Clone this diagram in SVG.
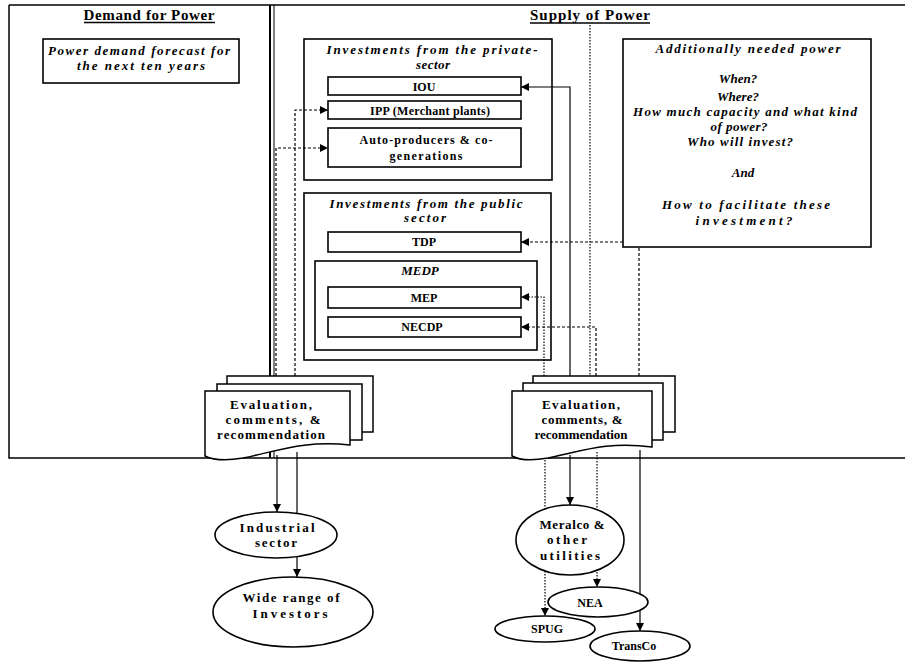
<svg xmlns="http://www.w3.org/2000/svg" width="905" height="662" viewBox="0 0 905 662">
  <defs>
    <style>
      .frame { fill: none; stroke: #000; stroke-width: 1.5; }
      .box { fill: #fff; stroke: #000; stroke-width: 1.6; }
      .group { fill: none; stroke: #000; stroke-width: 1.6; }
      .page { fill: #fff; stroke: #000; stroke-width: 1.5; }
      .t { font-family: "Liberation Serif", "DejaVu Serif", serif; font-weight: bold; font-size: 12px; fill: #000; text-anchor: middle; }
      .it { font-style: italic; font-size: 13px; }
      .big { font-size: 13px; }
      .title { font-size: 15px; }
      .conn { fill: none; stroke: #000; stroke-width: 1.2; }
      .dash { stroke-dasharray: 3 2; }
      .dot { stroke-dasharray: 1.5 1.5; }
      .arr { marker-end: url(#arrow); }
    </style>
    <marker id="arrow" markerWidth="9" markerHeight="9" refX="8" refY="4" orient="auto" markerUnits="userSpaceOnUse">
      <path d="M0,0 L8,4 L0,8 Z" fill="#000"/>
    </marker>
  </defs>

  <rect width="905" height="662" fill="#fff"/>

  <!-- Demand / Supply panels -->
  <g id="demand-panel">
    <path class="frame" d="M9,5 H271 M9,5 V458 H271"/>
    <line x1="270" y1="5" x2="270" y2="458" stroke="#000" stroke-width="2"/>
    <text class="t title" x="149" y="20" textLength="131">Demand for Power</text>
    <line x1="84" y1="22.5" x2="215" y2="22.5" stroke="#000" stroke-width="1.3"/>
  </g>
  <g id="supply-panel">
    <path class="frame" d="M271,5 H905 M271,458 H905"/>
    <line x1="274" y1="5" x2="274" y2="458" stroke="#000" stroke-width="1"/>
    <text class="t title" x="590" y="20" textLength="120">Supply of Power</text>
    <line x1="530" y1="23" x2="650" y2="23" stroke="#000" stroke-width="1.3"/>
  </g>

  <!-- Connectors -->
  <g id="connectors">
    <path class="conn dot" d="M590,25 V376"/>
    <path class="conn arr" d="M570,376 V87 H521"/>
    <path class="conn dash arr" d="M295,376 V110 H328"/>
    <path class="conn dash arr" d="M276,376 V148 H328"/>
    <path class="conn dash arr" d="M639,376 V242 H521"/>
    <path class="conn dot arr" d="M544,376 V297 H521"/>
    <path class="conn dash arr" d="M596,376 V327 H521"/>

    <path class="conn arr" d="M277,455 V512"/>
    <path class="conn" d="M297,452 V514"/>
    <path class="conn arr" d="M297,557 V577"/>

    <path class="conn arr" d="M570,455 V505"/>
    <path class="conn dot arr" d="M545,457 V616"/>
    <path class="conn dot arr" d="M597,452 V587"/>
    <path class="conn arr" d="M640,450 V631"/>
  </g>

  <!-- Demand side -->
  <g id="forecast">
    <rect class="box" x="43" y="39" width="196" height="44"/>
    <text class="t it" x="139" y="55" textLength="182">Power demand forecast for</text>
    <text class="t it" x="141" y="70" textLength="128">the next ten years</text>
  </g>

  <!-- Private sector -->
  <g id="private-sector">
    <rect class="group" x="304" y="39" width="248" height="141"/>
    <text class="t it" x="432" y="54" textLength="211">Investments from the private-</text>
    <text class="t it" x="433" y="69" textLength="34">sector</text>
  </g>
  <g id="iou">
    <rect class="box" x="328" y="77" width="193" height="18"/>
    <text class="t" x="424" y="91">IOU</text>
  </g>
  <g id="ipp">
    <rect class="box" x="328" y="101" width="193" height="18"/>
    <text class="t" x="430" y="115" textLength="120">IPP (Merchant plants)</text>
  </g>
  <g id="auto-producers">
    <rect class="box" x="328" y="128" width="193" height="39"/>
    <text class="t" x="426" y="144" textLength="133">Auto-producers &amp; co-</text>
    <text class="t" x="426" y="160" textLength="73">generations</text>
  </g>

  <!-- Public sector -->
  <g id="public-sector">
    <rect class="group" x="304" y="193" width="247" height="167"/>
    <text class="t it" x="426" y="208" textLength="193">Investments from the public</text>
    <text class="t it" x="425" y="222" textLength="42">sector</text>
  </g>
  <g id="tdp">
    <rect class="box" x="328" y="232" width="193" height="20"/>
    <text class="t" x="424" y="246">TDP</text>
  </g>
  <g id="medp">
    <rect class="group" x="315" y="261" width="222" height="89"/>
    <text class="t it" x="420" y="275" font-size="12">MEDP</text>
  </g>
  <g id="mep">
    <rect class="box" x="328" y="287" width="193" height="21"/>
    <text class="t" x="424" y="302">MEP</text>
  </g>
  <g id="necdp">
    <rect class="box" x="328" y="317" width="193" height="20"/>
    <text class="t" x="422" y="331">NECDP</text>
  </g>

  <!-- Questions on additional power -->
  <g id="additional-power">
    <rect class="box" x="623" y="39" width="248" height="208"/>
    <text class="t it" x="748" y="53" textLength="185">Additionally needed power</text>
    <text class="t it" x="738" y="83">When?</text>
    <text class="t it" x="738" y="101">Where?</text>
    <text class="t it" x="745" y="116" textLength="224">How much capacity and what kind</text>
    <text class="t it" x="739" y="131" textLength="57">of power?</text>
    <text class="t it" x="740" y="146" textLength="106">Who will invest?</text>
    <text class="t it" x="743" y="177">And</text>
    <text class="t it" x="746" y="209" textLength="168">How to facilitate these</text>
    <text class="t it" x="744" y="225" textLength="97">investment?</text>
  </g>

  <!-- Evaluation documents -->
  <g id="eval-demand">
    <rect class="page" x="227" y="376" width="146" height="56"/>
    <rect class="page" x="217" y="384" width="145" height="56"/>
    <path class="page" d="M205,391 H350 V445 C305,440 278,451 243,458 C226,461 213,460 205,456 Z"/>
    <text class="t big" x="271" y="409" textLength="82">Evaluation,</text>
    <text class="t big" x="273" y="424" textLength="95">comments, &amp;</text>
    <text class="t big" x="271" y="439" textLength="108">recommendation</text>
  </g>
  <g id="eval-supply">
    <rect class="page" x="533" y="376" width="142" height="56"/>
    <rect class="page" x="523" y="383" width="140" height="57"/>
    <path class="page" d="M512,391 H652 V447 C608,441 582,451 548,458 C531,461 519,460 512,456 Z"/>
    <text class="t big" x="581" y="409" textLength="78">Evaluation,</text>
    <text class="t big" x="582" y="424" textLength="81">comments, &amp;</text>
    <text class="t big" x="581" y="439" textLength="93">recommendation</text>
  </g>

  <!-- Stakeholders -->
  <g id="industrial">
    <ellipse class="box" cx="276" cy="535" rx="61" ry="23"/>
    <text class="t big" x="277" y="532" textLength="75">Industrial</text>
    <text class="t big" x="276" y="547" textLength="42">sector</text>
  </g>
  <g id="investors">
    <ellipse class="box" cx="293" cy="612" rx="80" ry="35"/>
    <text class="t big" x="291" y="602" textLength="97">Wide range of</text>
    <text class="t big" x="290" y="618" textLength="75">Investors</text>
  </g>
  <g id="meralco">
    <ellipse class="box" cx="570" cy="540" rx="54" ry="35"/>
    <text class="t big" x="572" y="529" textLength="65">Meralco &amp;</text>
    <text class="t big" x="567" y="544" textLength="40">other</text>
    <text class="t big" x="570" y="560" textLength="60">utilities</text>
  </g>
  <g id="nea">
    <ellipse class="box" cx="598" cy="602" rx="50" ry="15"/>
    <text class="t" x="590" y="607">NEA</text>
  </g>
  <g id="spug">
    <ellipse class="box" cx="545" cy="629" rx="50" ry="13"/>
    <text class="t" x="547" y="633">SPUG</text>
  </g>
  <g id="transco">
    <ellipse class="box" cx="640" cy="646" rx="50" ry="15"/>
    <text class="t" x="634" y="650">TransCo</text>
  </g>
</svg>
